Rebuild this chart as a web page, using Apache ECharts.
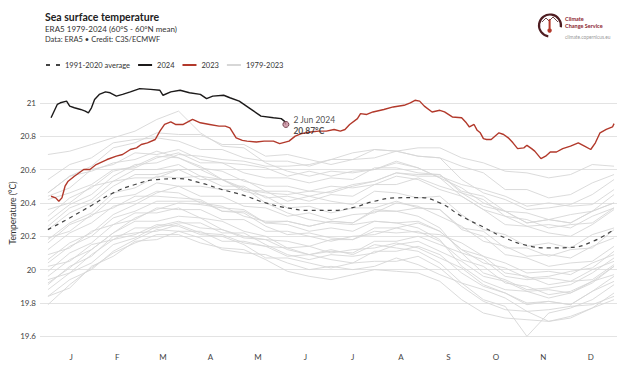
<!DOCTYPE html>
<html>
<head>
<meta charset="utf-8">
<script src="https://cdn.jsdelivr.net/npm/echarts@6/dist/echarts.min.js"></script>
<style>
html,body{margin:0;padding:0;background:#fff;}
#chart{width:624px;height:382px;}
</style>
</head>
<body>
<div id="chart"></div>
<script>
// ---------- DATA ----------
const monthLabels = ['J','F','M','A','M','J','J','A','S','O','N','D'];
const monthMidDays = [16,45.5,75,105.5,136,166.5,197,228,258.5,289,319.5,350];
const yTicks = [19.6,19.8,20,20.2,20.4,20.6,20.8,21];

const grayDays = [1,15,29,43,57,71,85,99,113,127,141,155,169,183,197,211,225,239,253,267,281,295,309,323,337,351,365];

const avgValues = [20.24,20.31,20.385,20.46,20.51,20.54,20.545,20.52,20.48,20.445,20.40,20.37,20.355,20.355,20.372,20.41,20.43,20.432,20.40,20.32,20.255,20.19,20.145,20.13,20.133,20.168,20.24];

const days2024 = [3,7,9,13,15,18,22,25,27,29,31,34,38,41,45,49,54,60,67,73,75,80,86,92,99,103,107,114,118,124,131,138,146,151,153,154];
const vals2024 = [20.91,20.99,21.00,21.01,20.98,20.97,20.96,20.95,20.94,20.97,21.02,21.05,21.065,21.06,21.04,21.05,21.065,21.085,21.08,21.075,21.045,21.065,21.075,21.06,21.05,21.025,21.04,21.045,21.03,21.01,20.965,20.92,20.91,20.905,20.89,20.87];

const days2023 = [3,6,8,10,12,14,18,24,28,32,39,45,49,54,58,61,65,70,73,76,80,83,88,94,99,105,111,115,118,120,122,126,129,135,140,146,150,156,160,164,170,175,180,185,189,192,195,200,202,206,210,217,223,230,234,237,240,243,248,253,256,261,267,270,272,275,277,279,281,283,286,291,294,297,300,303,307,309,312,314,318,321,324,328,332,337,342,346,350,353,356,360,364,365];
const vals2023 = [20.44,20.43,20.41,20.43,20.50,20.53,20.56,20.60,20.60,20.63,20.66,20.68,20.69,20.72,20.73,20.75,20.76,20.78,20.83,20.87,20.885,20.87,20.87,20.90,20.88,20.87,20.86,20.86,20.85,20.82,20.79,20.775,20.77,20.765,20.77,20.77,20.755,20.77,20.80,20.815,20.825,20.83,20.83,20.84,20.83,20.84,20.87,20.905,20.935,20.93,20.945,20.96,20.975,20.985,21.00,21.015,21.01,20.98,20.945,20.955,20.945,20.915,20.91,20.88,20.855,20.87,20.835,20.82,20.785,20.78,20.78,20.82,20.81,20.79,20.76,20.725,20.73,20.745,20.725,20.71,20.665,20.68,20.705,20.705,20.725,20.74,20.76,20.74,20.72,20.76,20.82,20.84,20.855,20.875];

const gray01 = [19.79,19.91,20.01,20.10,20.16,20.21,20.21,20.16,20.13,20.12,20.06,19.99,19.96,19.94,19.97,20.00,19.99,19.98,19.93,19.82,19.74,19.71,19.70,19.69,19.71,19.77,19.86];
const gray02 = [19.84,19.89,20.02,20.08,20.17,20.18,20.23,20.19,20.12,20.10,20.09,20.04,20.00,20.02,20.00,20.02,20.07,20.03,19.97,19.92,19.88,19.83,19.75,19.76,19.78,19.79,19.84];
const gray03 = [19.94,19.98,20.09,20.18,20.21,20.27,20.26,20.21,20.20,20.15,20.07,20.07,20.04,20.01,20.04,20.05,20.05,20.08,20.01,19.90,19.81,19.76,19.75,19.69,19.72,19.77,19.82];
const gray04 = [19.96,20.06,20.12,20.22,20.29,20.29,20.32,20.31,20.24,20.19,20.18,20.12,20.09,20.12,20.09,20.15,20.13,20.11,20.04,19.92,19.82,19.78,19.60,19.74,19.77,19.82,19.91];
const gray05 = [19.88,19.98,20.04,20.15,20.19,20.26,20.29,20.25,20.24,20.20,20.18,20.17,20.14,20.18,20.18,20.25,20.25,20.28,20.23,20.12,20.04,20.01,19.95,19.96,19.99,20.01,20.11];
const gray06 = [20.09,20.13,20.23,20.27,20.34,20.34,20.37,20.31,20.29,20.23,20.20,20.13,20.14,20.10,20.12,20.13,20.16,20.13,20.07,20.01,19.91,19.86,19.79,19.81,19.79,19.87,19.93];
const gray07 = [20.02,20.05,20.15,20.18,20.25,20.25,20.28,20.28,20.22,20.22,20.15,20.09,20.06,20.09,20.08,20.10,20.15,20.17,20.11,20.05,19.96,19.93,19.87,19.88,19.86,19.93,20.02];
const gray08 = [20.04,20.14,20.20,20.31,20.35,20.41,20.41,20.41,20.35,20.35,20.28,20.29,20.26,20.29,20.28,20.36,20.35,20.37,20.36,20.25,20.23,20.13,20.13,20.08,20.12,20.13,20.24];
const gray09 = [20.19,20.23,20.33,20.37,20.44,20.44,20.43,20.42,20.35,20.34,20.26,20.21,20.22,20.19,20.18,20.23,20.22,20.23,20.17,20.06,20.02,19.92,19.90,19.85,19.87,19.93,19.97];
const gray10 = [20.16,20.27,20.32,20.43,20.45,20.52,20.50,20.44,20.44,20.38,20.37,20.32,20.34,20.30,20.33,20.34,20.40,20.38,20.32,20.26,20.17,20.14,20.08,20.09,20.07,20.14,20.19];
const gray11 = [20.18,20.28,20.34,20.46,20.49,20.56,20.55,20.56,20.50,20.50,20.43,20.44,20.41,20.45,20.44,20.51,20.51,20.55,20.50,20.46,20.38,20.35,20.28,20.30,20.28,20.35,20.40];
const gray12 = [20.36,20.40,20.50,20.53,20.60,20.60,20.63,20.56,20.54,20.47,20.44,20.37,20.38,20.34,20.37,20.37,20.41,20.37,20.36,20.24,20.20,20.09,20.07,20.02,20.04,20.05,20.14];
const gray13 = [20.32,20.43,20.49,20.59,20.62,20.68,20.67,20.61,20.59,20.53,20.50,20.50,20.47,20.50,20.49,20.51,20.56,20.54,20.48,20.44,20.36,20.32,20.26,20.27,20.25,20.32,20.37];
const gray14 = [20.69,20.71,20.75,20.79,20.83,20.90,20.95,20.82,20.74,20.73,20.64,20.59,20.56,20.59,20.58,20.60,20.65,20.61,20.55,20.49,20.40,20.35,20.28,20.30,20.28,20.35,20.40];
const gray15 = [20.54,20.63,20.67,20.76,20.78,20.79,20.77,20.72,20.72,20.67,20.65,20.65,20.62,20.66,20.70,20.72,20.71,20.68,20.67,20.54,20.46,20.42,20.36,20.37,20.39,20.45,20.54];
const gray16 = [20.29,20.39,20.45,20.56,20.63,20.64,20.69,20.68,20.66,20.65,20.62,20.62,20.63,20.66,20.66,20.72,20.71,20.73,20.73,20.67,20.64,20.59,20.58,20.55,20.57,20.63,20.62];
const gray17 = [20.44,20.49,20.60,20.63,20.70,20.69,20.72,20.66,20.64,20.58,20.55,20.55,20.52,20.55,20.54,20.61,20.61,20.58,20.57,20.46,20.42,20.32,20.30,20.25,20.27,20.28,20.37];
const gray18 = [20.42,20.46,20.51,20.60,20.61,20.67,20.70,20.64,20.64,20.63,20.61,20.56,20.59,20.56,20.59,20.60,20.64,20.61,20.55,20.44,20.36,20.27,20.26,20.22,20.20,20.27,20.36];
const gray19 = [20.46,20.56,20.62,20.73,20.76,20.82,20.81,20.81,20.75,20.75,20.68,20.69,20.66,20.63,20.66,20.67,20.71,20.68,20.67,20.62,20.58,20.48,20.48,20.43,20.45,20.52,20.57];
const gray20 = [20.12,20.22,20.28,20.38,20.41,20.47,20.46,20.40,20.38,20.32,20.29,20.29,20.26,20.29,20.28,20.35,20.35,20.32,20.25,20.10,19.98,19.94,19.88,19.89,19.91,19.98,20.07];
const gray21 = [19.92,20.01,20.12,20.22,20.31,20.36,20.40,20.39,20.37,20.36,20.28,20.27,20.23,20.25,20.23,20.29,20.28,20.25,20.18,20.02,19.93,19.88,19.87,19.83,19.86,19.92,20.02];
const gray22 = [19.84,19.94,20.00,20.11,20.18,20.24,20.23,20.23,20.17,20.17,20.14,20.08,20.09,20.11,20.10,20.17,20.17,20.20,20.15,20.10,20.06,19.96,19.94,19.95,19.93,20.00,20.05];
const gray23 = [20.26,20.37,20.42,20.53,20.55,20.55,20.60,20.54,20.54,20.48,20.47,20.41,20.44,20.41,20.39,20.47,20.46,20.43,20.44,20.33,20.24,20.21,20.14,20.16,20.13,20.21,20.25];
const gray24 = [19.99,20.10,20.16,20.27,20.30,20.37,20.36,20.36,20.30,20.30,20.23,20.23,20.20,20.17,20.20,20.21,20.25,20.22,20.21,20.16,20.08,20.04,19.98,19.99,19.97,20.04,20.09];
const gray25 = [20.06,20.16,20.22,20.33,20.39,20.46,20.50,20.50,20.48,20.48,20.46,20.45,20.47,20.46,20.50,20.53,20.58,20.57,20.57,20.47,20.44,20.35,20.34,20.30,20.33,20.35,20.45];
const gray26 = [20.46,20.56,20.59,20.64,20.66,20.71,20.67,20.62,20.54,20.49,20.40,20.34,20.30,20.28,20.27,20.29,20.28,20.29,20.23,20.12,20.08,19.98,19.96,19.91,19.93,19.94,20.03];
const gray27 = [19.91,20.02,20.08,20.20,20.22,20.23,20.27,20.22,20.21,20.16,20.14,20.13,20.09,20.06,20.04,20.11,20.11,20.14,20.09,19.98,19.90,19.86,19.80,19.81,19.79,19.87,19.96];
const gray28 = [20.24,20.34,20.40,20.50,20.57,20.57,20.60,20.60,20.54,20.54,20.47,20.47,20.44,20.47,20.51,20.53,20.58,20.56,20.56,20.51,20.48,20.44,20.38,20.40,20.38,20.39,20.48];

const grayLines = [gray01,gray02,gray03,gray04,gray05,gray06,gray07,gray08,gray09,gray10,gray11,gray12,gray13,gray14,gray15,gray16,gray17,gray18,gray19,gray20,gray21,gray22,gray23,gray24,gray25,gray26,gray27,gray28];

const lastLabelDate = '2 Jun 2024';

// ---------- CHART ----------
const pairs = (d, v) => d.map((x, i) => [x, v[i]]);
const FONT = 'Lato, "Noto Sans", sans-serif';

const series = [];
grayLines.forEach(arr => {
  series.push({
    type: 'line', name: '1979-2023', data: pairs(grayDays, arr),
    symbol: 'none', clip: false, silent: true, z: 1,
    itemStyle: {color: '#d7d7d7'},
    lineStyle: {color: '#d7d7d7', width: 0.9}
  });
});
series.push({
  type: 'line', name: '1991-2020 average', data: pairs(grayDays, avgValues),
  symbol: 'none', smooth: true, clip: false, z: 3,
  itemStyle: {color: '#444'},
  lineStyle: {color: '#444', width: 1.2, type: [4, 4]}
});
series.push({
  type: 'line', name: '2023', data: pairs(days2023, vals2023),
  symbol: 'none', clip: false, z: 4,
  itemStyle: {color: '#b2392b'},
  lineStyle: {color: '#b2392b', width: 1.4}
});
series.push({
  type: 'line', name: '2024', data: pairs(days2024, vals2024),
  symbol: 'none', clip: false, z: 5,
  itemStyle: {color: '#1c1a1a'},
  lineStyle: {color: '#1c1a1a', width: 1.4}
});
const lastIdx = days2024.length - 1;
series.push({
  type: 'scatter', name: 'last', data: [[days2024[lastIdx], vals2024[lastIdx]]],
  symbol: 'circle', symbolSize: 6, z: 6, silent: true,
  itemStyle: {color: '#c98d9e', borderColor: '#5a2533', borderWidth: 1},
  label: {
    show: true, position: 'right', distance: 4, offset: [0, 1],
    formatter: p => '{a|' + lastLabelDate + '}\n{b|' + p.value[1].toFixed(2) + '°C}',
    rich: {
      a: {fontFamily: FONT, fontSize: 8.5, color: '#222', lineHeight: 11},
      b: {fontFamily: FONT, fontSize: 8.5, fontWeight: 'bold', color: '#222', lineHeight: 11}
    }
  }
});

const chart = echarts.init(document.getElementById('chart'), null, {renderer: 'svg'});
chart.setOption({
  animation: false,
  backgroundColor: '#ffffff',
  grid: {left: 40, right: 7, top: 69.4, bottom: 45.6},
  legend: {
    left: 41, top: 56, itemWidth: 14, itemHeight: 2, itemGap: 8,
    symbolKeepAspect: false,
    selectedMode: false,
    data: [
      {name: '1991-2020 average', icon: 'path://M0,0H4V2H0Z M10,0H14V2H10Z'},
      {name: '2024', icon: 'rect'},
      {name: '2023', icon: 'rect'},
      {name: '1979-2023', icon: 'rect'}
    ],
    textStyle: {fontFamily: FONT, fontSize: 7.5, color: '#333'}
  },
  xAxis: {
    type: 'value', min: -4.1, max: 366.9,
    axisLine: {show: false}, axisTick: {show: false}, splitLine: {show: false},
    axisLabel: {
      customValues: monthMidDays, margin: 17,
      fontFamily: FONT, fontSize: 8, color: '#444',
      formatter: v => { const i = monthMidDays.indexOf(v); return i >= 0 ? monthLabels[i] : ''; }
    }
  },
  yAxis: {
    type: 'value', min: yTicks[0], max: 21.2, interval: 0.2,
    axisLine: {show: false}, axisTick: {show: false},
    splitLine: {show: true, showMaxLine: false, lineStyle: {color: '#e3e3e3', width: 1}},
    axisLabel: {
      showMaxLabel: false, margin: 4, fontFamily: FONT, fontSize: 8, color: '#444',
      formatter: v => (v > 21.05 ? '' : String(parseFloat(v.toFixed(1))))
    }
  },
  graphic: [
    {type: 'text', left: 45, top: 11, style: {text: 'Sea surface temperature', font: 'bold 10.5px ' + FONT, fill: '#222'}},
    {type: 'text', left: 45, top: 25, style: {text: 'ERA5 1979-2024 (60°S - 60°N mean)', font: '8px ' + FONT, fill: '#333'}},
    {type: 'text', left: 45, top: 35, style: {text: 'Data: ERA5 • Credit: C3S/ECMWF', font: '7.5px ' + FONT, fill: '#333'}},
    {type: 'text', x: 13, y: 213, rotation: Math.PI / 2,
      style: {text: 'Temperature (°C)', font: '8.5px ' + FONT, fill: '#333', align: 'center', verticalAlign: 'middle'}},
    // logo
    {type: 'arc', shape: {cx: 550, cy: 25.5, r: 11, startAngle: Math.PI * 0.55, endAngle: Math.PI * 2.05},
      style: {stroke: '#4e1d22', lineWidth: 2.2, fill: null}},
    {type: 'polyline', shape: {points: [[542, 22], [546, 18], [549, 21], [553, 17], [558, 22]]},
      style: {stroke: '#4e1d22', lineWidth: 0.8, fill: null}},
    {type: 'rect', shape: {x: 548.6, y: 19, width: 2, height: 10, r: 1}, style: {fill: '#b2392b'}},
    {type: 'circle', shape: {cx: 549.6, cy: 30.5, r: 2.2}, style: {fill: '#b2392b'}},
    {type: 'text', left: 565, top: 15.5, style: {text: 'Climate', font: 'bold 5.5px ' + FONT, fill: '#8c1f2f'}},
    {type: 'text', left: 565, top: 22.5, style: {text: 'Change Service', font: 'bold 5.5px ' + FONT, fill: '#8c1f2f'}},
    {type: 'text', left: 565, top: 34, style: {text: 'climate.copernicus.eu', font: '4.8px ' + FONT, fill: '#999'}}
  ],
  series: series
});
</script>
</body>
</html>
